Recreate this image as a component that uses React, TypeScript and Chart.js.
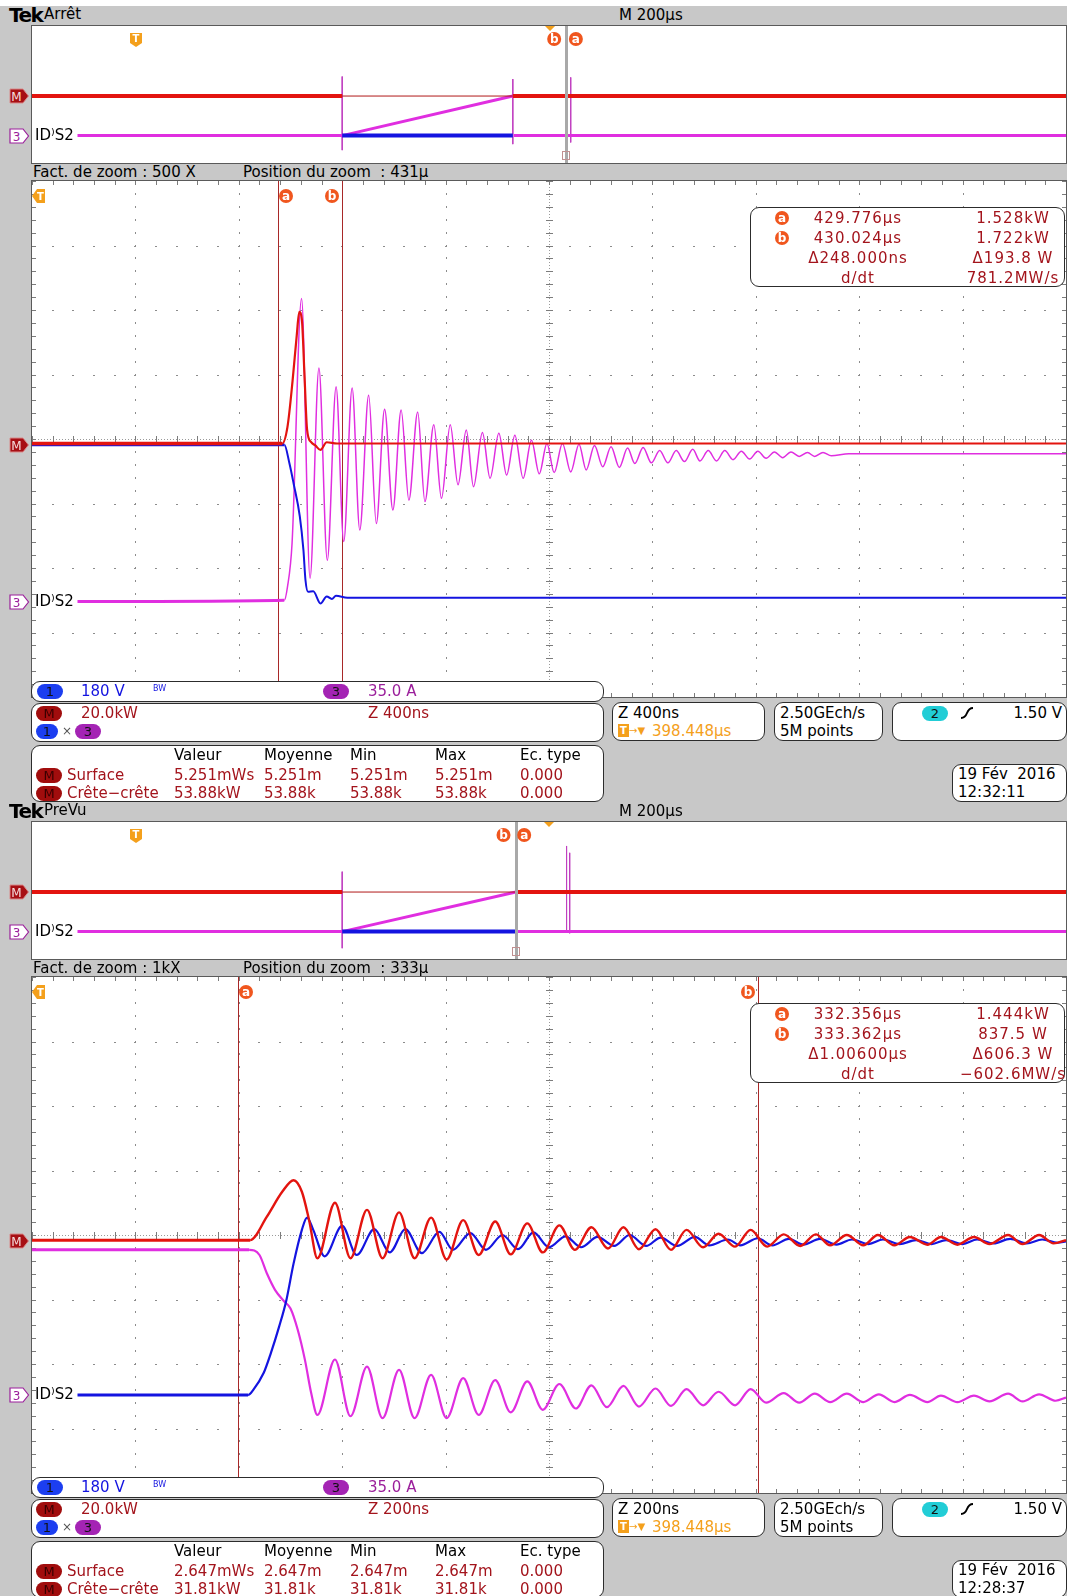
import React, { useEffect, useRef } from "react";
import { Chart, registerables } from "chart.js";

Chart.register(...registerables);

type Pt = [number, number | null];

// ================= DATA (x and y in graticule divisions) =================
// ---- Screen 1 : "Arrêt", zoom 500 X, Z 400 ns/div ----
const s1MathPts: Pt[] = [
  [0, -0.07], [2.42, -0.07], [2.47, 0.18], [2.52, 0.9], [2.56, 1.6], [2.585, 1.97], [2.61, 1.85],
  [2.635, 1.0], [2.66, 0.15], [2.7, -0.05], [2.74, -0.1], [2.79, -0.17], [2.85, -0.05], [2.95, -0.07], [10, -0.07],
];
const s1Ch1Pts: Pt[] = [
  [0, -0.09], [2.44, -0.09], [2.49, -0.38], [2.53, -0.69], [2.59, -1.2], [2.625, -1.72], [2.645, -2.19],
  [2.67, -2.37], [2.72, -2.36], [2.79, -2.55], [2.85, -2.44], [2.9, -2.48], [2.94, -2.43], [3.05, -2.46], [10, -2.46],
];
const s1Ch3Pts: Pt[] = [
  [0.44, -2.52], [2.44, -2.5], [2.47, -2.3], [2.515, -1.62], [2.607, 2.18], [2.689, -2.16], [2.775, 1.1], [2.856, -1.88],
  [2.941, 0.81], [3.015, -1.59], [3.096, 0.79], [3.17, -1.41], [3.256, 0.68], [3.33, -1.31], [3.41, 0.46], [3.49, -1.1],
  [3.57, 0.45], [3.645, -0.95], [3.73, 0.42], [3.8, -0.97], [3.886, 0.22], [3.96, -0.92], [4.045, 0.22], [4.12, -0.71],
  [4.2, 0.14], [4.27, -0.74], [4.356, 0.1], [4.43, -0.61], [4.515, 0.09], [4.59, -0.56], [4.67, 0.06], [4.75, -0.61],
  [4.83, -0.02], [4.906, -0.54], [4.98, -0.07], [5.05, -0.52], [5.13, -0.07], [5.21, -0.51], [5.29, -0.08], [5.36, -0.48],
  [5.44, -0.1], [5.52, -0.43], [5.6, -0.12], [5.68, -0.44], [5.76, -0.14], [5.83, -0.38], [5.91, -0.13], [5.99, -0.37],
  [6.07, -0.18], [6.15, -0.37], [6.23, -0.18], [6.31, -0.35], [6.39, -0.16], [6.46, -0.34], [6.54, -0.18], [6.62, -0.34],
  [6.7, -0.18], [6.78, -0.32], [6.86, -0.19], [6.94, -0.31], [7.02, -0.19], [7.1, -0.3], [7.18, -0.2], [7.26, -0.29],
  [7.34, -0.2], [7.42, -0.27], [7.5, -0.21], [7.57, -0.27], [7.65, -0.21], [7.73, -0.26], [7.9, -0.23], [10, -0.23],
];
const s1Cursors = [2.38, 3.0]; // a, b

// overview (M 200 µs/div)
const ov1MathPts: Pt[] = [[0, -0.09], [3.0, -0.09], [3.0, null], [4.65, -0.09], [10, -0.09]];
const ov1MathThinPts: Pt[] = [[3.0, -0.09], [4.65, -0.09]];
const ov1Ch1Pts: Pt[] = [[3.0, -2.4], [4.65, -2.4]];
const ov1Ch3Pts: Pt[] = [[0.44, -2.4], [3.0, -2.4], [4.65, -0.09], [4.65, null], [4.66, -2.4], [10, -2.4]];
const ov1SpikePts: Pt[] = [[3.0, 1.05], [3.0, -3.25], [3.0, null], [4.65, 0.9], [4.65, -2.9], [4.65, null], [5.21, 1.0], [5.21, -2.8]];
const ov1Marks = { trig: 1.01, expand: 5.01, bar: 5.16, curB: 5.05, curA: 5.26 };

// ---- Screen 2 : "PreVu", zoom 1kX, Z 200 ns/div ----
const s2MathPts: Pt[] = [
  [0, -0.08], [2.11, -0.08], [2.27, 0.28], [2.42, 0.67], [2.53, 0.85], [2.61, 0.67], [2.68, 0.23], [2.76, -0.36],
  [2.93, 0.5], [3.08, -0.36], [3.24, 0.39], [3.39, -0.36], [3.55, 0.35], [3.7, -0.36], [3.86, 0.27], [4.01, -0.38],
  [4.17, 0.23], [4.32, -0.31], [4.48, 0.21], [4.63, -0.3], [4.79, 0.18], [4.94, -0.27], [5.1, 0.15], [5.25, -0.23],
  [5.41, 0.12], [5.57, -0.21], [5.72, 0.12], [5.87, -0.22], [6.03, 0.09], [6.18, -0.23], [6.33, 0.08], [6.49, -0.19],
  [6.64, 0.02], [6.8, -0.18], [6.95, 0.08], [7.11, -0.18], [7.27, 0.01], [7.43, -0.17], [7.58, 0.01], [7.72, -0.16],
  [7.88, 0], [8.04, -0.16], [8.18, 0], [8.34, -0.16], [8.49, -0.03], [8.66, -0.15], [8.79, -0.03], [8.95, -0.15],
  [9.11, -0.03], [9.26, -0.14], [9.44, 0], [9.58, -0.14], [9.74, 0], [9.88, -0.13], [10, -0.08],
];
const s2Ch1Pts: Pt[] = [
  [0.44, -2.48], [2.09, -2.48], [2.14, -2.4], [2.24, -2.14], [2.31, -1.83], [2.39, -1.42], [2.46, -1.01], [2.53, -0.44],
  [2.61, 0.08], [2.66, 0.27], [2.72, 0.08], [2.83, -0.33], [3.0, 0.14], [3.14, -0.31], [3.31, 0.09], [3.46, -0.27],
  [3.61, 0.09], [3.77, -0.28], [3.94, 0.05], [4.07, -0.23], [4.24, 0.03], [4.39, -0.23], [4.55, 0.0], [4.7, -0.22],
  [4.85, 0.04], [5.0, -0.19], [5.16, -0.02], [5.31, -0.19], [5.47, -0.03], [5.63, -0.17], [5.78, 0.0], [5.94, -0.17],
  [6.08, -0.04], [6.24, -0.17], [6.41, -0.03], [6.55, -0.16], [6.73, -0.07], [6.85, -0.16], [7.02, -0.05], [7.16, -0.16],
  [7.32, -0.06], [7.46, -0.15], [7.62, -0.06], [7.78, -0.15], [7.93, -0.07], [8.09, -0.14], [8.23, -0.07], [8.39, -0.14],
  [8.55, -0.08], [8.7, -0.14], [8.84, -0.08], [9.0, -0.14], [9.14, -0.07], [9.3, -0.13], [9.46, -0.06], [9.62, -0.13],
  [9.77, -0.07], [9.92, -0.12], [10, -0.1],
];
const s2Ch3Pts: Pt[] = [
  [0, -0.23], [2.1, -0.23], [2.2, -0.31], [2.27, -0.59], [2.35, -0.85], [2.44, -1.03], [2.5, -1.14], [2.57, -1.47],
  [2.64, -1.94], [2.7, -2.45], [2.76, -2.79], [2.93, -1.93], [3.08, -2.81], [3.24, -2.04], [3.39, -2.84], [3.55, -2.09],
  [3.7, -2.84], [3.86, -2.17], [4.01, -2.84], [4.17, -2.22], [4.32, -2.79], [4.48, -2.25], [4.63, -2.75], [4.79, -2.27],
  [4.94, -2.71], [5.1, -2.31], [5.26, -2.69], [5.41, -2.33], [5.56, -2.67], [5.72, -2.34], [5.87, -2.66], [6.03, -2.38],
  [6.18, -2.65], [6.33, -2.39], [6.49, -2.64], [6.64, -2.43], [6.8, -2.64], [6.95, -2.39], [7.1, -2.6], [7.27, -2.45],
  [7.42, -2.6], [7.57, -2.46], [7.72, -2.59], [7.88, -2.46], [8.04, -2.59], [8.19, -2.47], [8.34, -2.59], [8.49, -2.48],
  [8.66, -2.59], [8.79, -2.49], [8.95, -2.59], [9.11, -2.49], [9.26, -2.58], [9.44, -2.46], [9.58, -2.58], [9.74, -2.47],
  [9.9, -2.57], [10, -2.52],
];
const s2Cursors = [1.99, 7.02]; // a, b

const ov2MathPts: Pt[] = [[0, -0.09], [3.0, -0.09], [3.0, null], [4.68, -0.09], [10, -0.09]];
const ov2MathThinPts: Pt[] = [[3.0, -0.09], [4.68, -0.09]];
const ov2Ch1Pts: Pt[] = [[3.0, -2.4], [4.68, -2.4]];
const ov2Ch3Pts: Pt[] = [[0.44, -2.4], [3.0, -2.4], [4.68, -0.09], [4.68, null], [4.69, -2.4], [10, -2.4]];
const ov2SpikePts: Pt[] = [[3.0, 1.1], [3.0, -3.37], [3.0, null], [4.68, 0.95], [4.68, -2.9], [4.68, null], [5.17, 2.6], [5.17, -2.3], [5.17, null], [5.2, 2.2], [5.2, -2.5]];
const ov2Marks = { trig: 1.01, expand: 5.0, bar: 4.68, curB: 4.56, curA: 4.76 };

// ---- text readouts ----
const measHeaders = ["Valeur", "Moyenne", "Min", "Max", "Ec. type"];
const s1MeasSurface = ["5.251mWs", "5.251m", "5.251m", "5.251m", "0.000"];
const s1MeasPkPk = ["53.88kW", "53.88k", "53.88k", "53.88k", "0.000"];
const s2MeasSurface = ["2.647mWs", "2.647m", "2.647m", "2.647m", "0.000"];
const s2MeasPkPk = ["31.81kW", "31.81k", "31.81k", "31.81k", "0.000"];
const s1Readout = [["429.776µs", "1.528kW"], ["430.024µs", "1.722kW"], ["Δ248.000ns", "Δ193.8 W"], ["d/dt", "781.2MW/s"]];
const s2Readout = [["332.356µs", "1.444kW"], ["333.362µs", "837.5 W"], ["Δ1.00600µs", "Δ606.3 W"], ["d/dt", "−602.6MW/s"]];

// ================= STYLE =================
const FONT = "'DejaVu Sans', Verdana, sans-serif";
const GRAY = "#c8c8c8";
const DKRED = "#a3141c";
const RED = "#e3140f";
const BLUE = "#1414e0";
const MAG = "#e02ee0";
const ORANGE = "#f4a01c";
const CUR = "#f0561e";
const PURPLE = "#9b1f9b";

const toXY = (pts: Pt[]) => pts.map(([x, y]) => ({ x, y }));

// width may be [flatWidth, activeWidth, switchX]: thicker (noisy) flat part before switchX
function trace(pts: Pt[], color: string, width: number | number[], smooth: boolean) {
  const w = Array.isArray(width) ? width : [width, width, -1];
  return {
    data: toXY(pts),
    borderColor: color,
    borderWidth: w[1],
    segment: { borderWidth: (c: any) => (c.p0.parsed.x < w[2] ? w[0] : w[1]) },
    pointRadius: 0,
    fill: false,
    tension: 0,
    spanGaps: false,
    cubicInterpolationMode: smooth ? "monotone" : "default",
    borderJoinStyle: "round",
  } as any;
}

function circleLabel(ctx: any, cx: number, cy: number, ch: string) {
  ctx.fillStyle = CUR;
  ctx.beginPath();
  ctx.arc(cx, cy, 7, 0, Math.PI * 2);
  ctx.fill();
  ctx.fillStyle = "#fff";
  ctx.font = "bold 12px 'DejaVu Sans'";
  ctx.textAlign = "center";
  ctx.textBaseline = "middle";
  ctx.fillText(ch, cx, cy + 0.5);
}

const scopePlugin = {
  id: "scope",
  beforeDatasetsDraw(chart: any, _a: any, o: any) {
    const { ctx, chartArea: a, scales } = chart;
    const xs = scales.x, ys = scales.y;
    ctx.save();
    if (o.graticule) {
      ctx.fillStyle = "#8c8c8c";
      for (let i = 1; i < 10; i++) {
        if (i === 5) continue;
        const px = Math.round(xs.getPixelForValue(i));
        for (let k = 0; k <= 40; k++) {
          const py = Math.round(ys.getPixelForValue(-4 + k * 0.2));
          ctx.fillRect(px, py - 1, 1, 2);
        }
      }
      for (let j = -3; j <= 3; j++) {
        if (j === 0) continue;
        const py = Math.round(ys.getPixelForValue(j));
        for (let k = 0; k <= 50; k++) {
          const px = Math.round(xs.getPixelForValue(k * 0.2));
          ctx.fillRect(px - 1, py, 2, 1);
        }
      }
      const cx = Math.round(xs.getPixelForValue(5));
      const cy = Math.round(ys.getPixelForValue(0));
      ctx.fillStyle = "#9a9a9a";
      for (let py = a.top; py < a.bottom; py += 3) ctx.fillRect(cx, py, 1, 1);
      for (let px = a.left; px < a.right; px += 3) ctx.fillRect(px, cy, 1, 1);
      ctx.fillStyle = "#7c7c7c";
      for (let k = 0; k <= 40; k++) {
        const py = Math.round(ys.getPixelForValue(-4 + k * 0.2));
        ctx.fillRect(cx - 3, py, 7, 1);
        ctx.fillRect(a.left, py, 4, 1);
        ctx.fillRect(a.right - 4, py, 4, 1);
      }
      for (let k = 0; k <= 50; k++) {
        const px = Math.round(xs.getPixelForValue(k * 0.2));
        ctx.fillRect(px, cy - 3, 1, 7);
        ctx.fillRect(px, a.top, 1, 4);
        ctx.fillRect(px, a.bottom - 4, 1, 4);
      }
    }
    if (o.cursors) {
      ctx.strokeStyle = "#a82828";
      ctx.lineWidth = 1;
      o.cursors.forEach((c: number) => {
        const px = Math.round(xs.getPixelForValue(c)) + 0.5;
        ctx.beginPath();
        ctx.moveTo(px, a.top);
        ctx.lineTo(px, a.bottom);
        ctx.stroke();
      });
    }
    ctx.restore();
  },
  afterDatasetsDraw(chart: any, _a: any, o: any) {
    const { ctx, chartArea: a, scales } = chart;
    const xs = scales.x;
    ctx.save();
    if (o.cursors) {
      const [ca, cb] = o.cursors;
      circleLabel(ctx, Math.round(xs.getPixelForValue(ca)) + 8, a.top + 15, "a");
      circleLabel(ctx, Math.round(xs.getPixelForValue(cb)) - 10, a.top + 15, "b");
    }
    if (o.overview) {
      const m = o.overview;
      const bx = Math.round(xs.getPixelForValue(m.bar));
      ctx.fillStyle = "#a9a9a9";
      ctx.fillRect(bx - 1, a.top, 3, a.bottom - a.top);
      ctx.strokeStyle = "#c09090";
      ctx.lineWidth = 1;
      ctx.strokeRect(bx - 3.5, a.bottom - 11.5, 7, 8);
      const tx = Math.round(xs.getPixelForValue(m.trig));
      ctx.fillStyle = ORANGE;
      ctx.beginPath();
      ctx.moveTo(tx - 6, a.top + 7);
      ctx.lineTo(tx + 6, a.top + 7);
      ctx.lineTo(tx + 6, a.top + 17);
      ctx.lineTo(tx, a.top + 21);
      ctx.lineTo(tx - 6, a.top + 17);
      ctx.closePath();
      ctx.fill();
      ctx.fillStyle = "#fff";
      ctx.font = "bold 10px 'DejaVu Sans'";
      ctx.textAlign = "center";
      ctx.textBaseline = "middle";
      ctx.fillText("T", tx, a.top + 13);
      const ex = xs.getPixelForValue(m.expand);
      ctx.fillStyle = ORANGE;
      ctx.beginPath();
      ctx.moveTo(ex - 5, a.top);
      ctx.lineTo(ex + 5, a.top);
      ctx.lineTo(ex, a.top + 5);
      ctx.closePath();
      ctx.fill();
      circleLabel(ctx, xs.getPixelForValue(m.curB), a.top + 13, "b");
      circleLabel(ctx, xs.getPixelForValue(m.curA), a.top + 13, "a");
    }
    ctx.restore();
  },
};

function ScopeCanvas(props: { left: number; top: number; width: number; height: number; datasets: any[]; opts: any }) {
  const ref = useRef<HTMLCanvasElement | null>(null);
  const { left, top, width, height, datasets, opts } = props;
  useEffect(() => {
    const chart = new Chart(ref.current as HTMLCanvasElement, {
      type: "line",
      data: { datasets },
      options: {
        animation: false,
        responsive: false,
        maintainAspectRatio: false,
        devicePixelRatio: 1,
        events: [],
        layout: { padding: 0 },
        plugins: { legend: { display: false }, tooltip: { enabled: false }, scope: opts } as any,
        scales: {
          x: { type: "linear", min: 0, max: 10, display: false },
          y: { type: "linear", min: -4, max: 4, display: false },
        },
      },
      plugins: [scopePlugin],
    } as any);
    return () => chart.destroy();
  }, []);
  return (
    <canvas
      ref={ref}
      width={width}
      height={height}
      style={{ position: "absolute", left, top, width, height, background: "#fff", display: "block" }}
    />
  );
}

// ================= small UI pieces =================
const Txt = (p: { x: number; y: number; c?: string; s?: number; w?: number; al?: any; ls?: number; b?: boolean; children: any }) => (
  <div
    style={{
      position: "absolute", left: p.x, top: p.y, color: p.c || "#000", fontSize: p.s || 15, fontFamily: FONT,
      lineHeight: "18px", whiteSpace: "pre", letterSpacing: p.ls || 0, fontWeight: p.b ? "bold" : "normal",
      width: p.w, textAlign: p.al,
    }}
  >
    {p.children}
  </div>
);

const Pill = (p: { x: number; cy: number; w?: number; bg: string; fg?: string; t: string }) => {
  const h = 15;
  return (
    <div
      style={{
        position: "absolute", left: p.x, top: p.cy - h / 2, width: p.w || 26, height: h, borderRadius: 8,
        background: p.bg, color: p.fg || "#111", fontSize: 13, fontFamily: FONT, lineHeight: h + "px",
        textAlign: "center",
      }}
    >
      {p.t}
    </div>
  );
};

const Box = (p: { x: number; y: number; w: number; h: number }) => (
  <div
    style={{
      position: "absolute", left: p.x, top: p.y, width: p.w, height: p.h, boxSizing: "border-box",
      border: "1px solid #2c2c2c", borderRadius: 9, background: "#fff",
    }}
  />
);

const Circ = (p: { cx: number; cy: number; t: string }) => (
  <div
    style={{
      position: "absolute", left: p.cx - 7, top: p.cy - 7, width: 14, height: 14, borderRadius: 7, background: CUR,
      color: "#fff", fontSize: 12, fontWeight: "bold", fontFamily: FONT, lineHeight: "14px", textAlign: "center",
    }}
  >
    {p.t}
  </div>
);

const ChMarker = (p: { cy: number; kind: "M" | "3" }) =>
  p.kind === "M" ? (
    <svg style={{ position: "absolute", left: 9, top: p.cy - 8 }} width={21} height={16}>
      <path d="M1 1 H14 L19.5 8 L14 15 H1 Z" fill="#a70f14" stroke="#d98a8a" strokeWidth={1} />
      <text x={7.5} y={12.5} fontSize={12} fontFamily="DejaVu Sans" fill="#f6dede" textAnchor="middle">M</text>
    </svg>
  ) : (
    <svg style={{ position: "absolute", left: 9, top: p.cy - 8 }} width={21} height={16}>
      <path d="M1 1 H14 L19.5 8 L14 15 H1 Z" fill="#fff" stroke={PURPLE} strokeWidth={1.2} />
      <text x={7.5} y={12.5} fontSize={12} fontFamily="DejaVu Sans" fill={PURPLE} textAnchor="middle">3</text>
    </svg>
  );

// ================= one oscilloscope screen =================
function Screen(p: {
  top: number; status: string; zoomFactor: string; zoomPos: string;
  ov: { math: Pt[]; thin: Pt[]; ch1: Pt[]; ch3: Pt[]; spikes: Pt[]; marks: any };
  main: { math: Pt[]; ch1: Pt[]; ch3: Pt[]; cursors: number[]; w: any[] };
  idLevel: number; readout: string[][]; zScale: string; surf: string[]; pk: string[]; date: string; time: string;
}) {
  const MT = 181, MH = 516, MC = MT + MH / 2;
  const mainY = (v: number) => MC - v * (MH / 8);
  const OT = 26, OH = 137, OC = OT + OH / 2;
  const ovY = (v: number) => OC - v * (OH / 8);
  const measX = [174, 264, 350, 435, 520];
  return (
    <div style={{ position: "absolute", left: 0, top: p.top, width: 1067, height: 798 }}>
      <Txt x={9} y={6} s={20} b ls={-1.5}>Tek</Txt>
      <Txt x={44} y={5} s={15}>{p.status}</Txt>
      <Txt x={619} y={6} s={15}>M 200µs</Txt>

      <div style={{ position: "absolute", left: 31, top: OT - 1, width: 1036, height: OH + 2, background: "#5a5a5a" }} />
      <ScopeCanvas
        left={32} top={OT} width={1034} height={OH}
        datasets={[
          trace(p.ov.math, RED, 4, false),
          trace(p.ov.thin, "#b01818", 1, false),
          trace(p.ov.ch1, BLUE, 4, false),
          trace(p.ov.ch3, MAG, 3, false),
          trace(p.ov.spikes, "#c040c0", 1, false),
        ]}
        opts={{ overview: p.ov.marks }}
      />
      <ChMarker cy={ovY(-0.09)} kind="M" />
      <ChMarker cy={ovY(-2.4)} kind="3" />
      <Txt x={35} y={ovY(-2.4) - 10} s={15}>ID⁾S2</Txt>

      <Txt x={33} y={163} s={15}>{"Fact. de zoom : " + p.zoomFactor}</Txt>
      <Txt x={243} y={163} s={15}>{"Position du zoom  : " + p.zoomPos}</Txt>

      <div style={{ position: "absolute", left: 31, top: MT - 1, width: 1036, height: MH + 2, background: "#5a5a5a" }} />
      <ScopeCanvas
        left={32} top={MT} width={1034} height={MH}
        datasets={[
          trace(p.main.math, RED, p.main.w[0], true),
          trace(p.main.ch1, BLUE, p.main.w[1], true),
          trace(p.main.ch3, MAG, p.main.w[2], true),
        ]}
        opts={{ graticule: true, cursors: p.main.cursors }}
      />
      <svg style={{ position: "absolute", left: 32, top: 189 }} width={14} height={14}>
        <path d="M0 7 L5 0 H13 V14 H5 Z" fill={ORANGE} />
        <text x={8.5} y={11} fontSize={10} fontWeight="bold" fontFamily="DejaVu Sans" fill="#fff" textAnchor="middle">T</text>
      </svg>
      <ChMarker cy={mainY(-0.09)} kind="M" />
      <ChMarker cy={mainY(p.idLevel)} kind="3" />
      <Txt x={35} y={mainY(p.idLevel) - 10} s={15}>ID⁾S2</Txt>

      <Box x={750} y={207} w={315} h={80} />
      {p.readout.map((r, i) => (
        <React.Fragment key={i}>
          {i < 2 && <Circ cx={782} cy={218 + i * 20} t={i === 0 ? "a" : "b"} />}
          <Txt x={778} y={209 + i * 20} w={160} al="center" c={DKRED} ls={1}>{r[0]}</Txt>
          <Txt x={940} y={209 + i * 20} w={146} al="center" c={DKRED} ls={1}>{r[1]}</Txt>
        </React.Fragment>
      ))}

      <Box x={31} y={681} w={573} h={21} />
      <Pill x={37} cy={691} bg="#1c3ef0" t="1" />
      <Txt x={81} y={682} c={BLUE}>180 V</Txt>
      <Txt x={153} y={680} s={8} c={BLUE}>BW</Txt>
      <Pill x={323} cy={691} bg="#a424b4" t="3" />
      <Txt x={368} y={682} c={PURPLE}>35.0 A</Txt>

      <Box x={31} y={703} w={573} h={39} />
      <Pill x={36} cy={713} bg="#a10d0d" fg="#3a0000" t="M" />
      <Txt x={81} y={704} c={DKRED}>20.0kW</Txt>
      <Pill x={36} cy={731} w={22} bg="#1c3ef0" t="1" />
      <Txt x={62} y={722} s={12} c="#555">×</Txt>
      <Pill x={75} cy={731} w={26} bg="#a424b4" t="3" />
      <Txt x={368} y={704} c={DKRED}>{p.zScale}</Txt>

      <Box x={31} y={745} w={573} h={57} />
      {measHeaders.map((h, i) => <Txt key={"h" + i} x={measX[i]} y={746}>{h}</Txt>)}
      <Pill x={36} cy={775} bg="#a10d0d" fg="#3a0000" t="M" />
      <Txt x={67} y={766} c={DKRED}>Surface</Txt>
      {p.surf.map((v, i) => <Txt key={"s" + i} x={measX[i]} y={766} c={DKRED}>{v}</Txt>)}
      <Pill x={36} cy={793} bg="#a10d0d" fg="#3a0000" t="M" />
      <Txt x={67} y={784} c={DKRED}>Crête−crête</Txt>
      {p.pk.map((v, i) => <Txt key={"p" + i} x={measX[i]} y={784} c={DKRED}>{v}</Txt>)}

      <Box x={612} y={702} w={153} h={39} />
      <Txt x={618} y={704}>{p.zScale}</Txt>
      <div style={{ position: "absolute", left: 618, top: 724, width: 11, height: 13, background: ORANGE, color: "#fff", fontSize: 10, fontWeight: "bold", fontFamily: FONT, lineHeight: "13px", textAlign: "center" }}>T</div>
      <Txt x={629} y={722} s={10} c={ORANGE}>→▼</Txt>
      <Txt x={652} y={722} c={ORANGE}>398.448µs</Txt>

      <Box x={774} y={702} w={109} h={39} />
      <Txt x={780} y={704}>2.50GEch/s</Txt>
      <Txt x={780} y={722}>5M points</Txt>

      <Box x={892} y={702} w={175} h={39} />
      <Pill x={922} cy={713} bg="#22cdd6" t="2" />
      <svg style={{ position: "absolute", left: 960, top: 706 }} width={14} height={14}>
        <path d="M1 12 Q5 12 7 7 Q9 2 13 2" stroke="#000" strokeWidth={2} fill="none" />
      </svg>
      <Txt x={960} y={704} w={102} al="right">1.50 V</Txt>

      <Box x={952} y={764} w={115} h={38} />
      <Txt x={958} y={765}>{p.date}</Txt>
      <Txt x={958} y={783}>{p.time}</Txt>
    </div>
  );
}

export default function App() {
  return (
    <div style={{ position: "absolute", left: 0, top: 0, width: 1067, height: 1596, overflow: "hidden", background: GRAY }}>
      <div style={{ position: "absolute", left: 0, top: 0, width: 1067, height: 6, background: "#fff" }} />
      <Screen
        top={0} status="Arrêt" zoomFactor="500 X" zoomPos="431µ"
        ov={{ math: ov1MathPts, thin: ov1MathThinPts, ch1: ov1Ch1Pts, ch3: ov1Ch3Pts, spikes: ov1SpikePts, marks: ov1Marks }}
        main={{ math: s1MathPts, ch1: s1Ch1Pts, ch3: s1Ch3Pts, cursors: s1Cursors, w: [[3.5, 2.2, 2.42], [3, 2, 2.44], [3, 1.5, 2.44]] }}
        idLevel={-2.52} readout={s1Readout} zScale="Z 400ns" surf={s1MeasSurface} pk={s1MeasPkPk}
        date="19 Fév  2016" time="12:32:11"
      />
      <Screen
        top={796} status="PreVu" zoomFactor="1kX" zoomPos="333µ"
        ov={{ math: ov2MathPts, thin: ov2MathThinPts, ch1: ov2Ch1Pts, ch3: ov2Ch3Pts, spikes: ov2SpikePts, marks: ov2Marks }}
        main={{ math: s2MathPts, ch1: s2Ch1Pts, ch3: s2Ch3Pts, cursors: s2Cursors, w: [[3, 2.4, 2.11], [3, 2.2, 2.09], [3, 2.2, 2.1]] }}
        idLevel={-2.48} readout={s2Readout} zScale="Z 200ns" surf={s2MeasSurface} pk={s2MeasPkPk}
        date="19 Fév  2016" time="12:28:37"
      />
    </div>
  );
}
